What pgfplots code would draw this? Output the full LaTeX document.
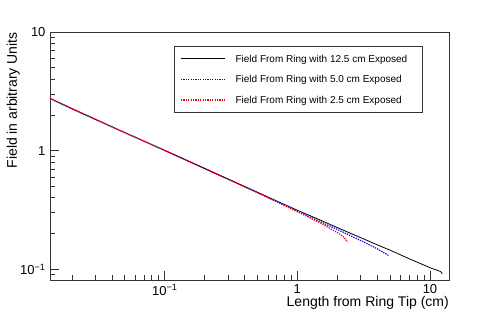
\documentclass[border=0pt]{standalone}
\usepackage{fontspec}
\setmainfont{Liberation Sans}
\usepackage{pgfplots}
\pgfplotsset{compat=1.18}
\begin{document}
\begin{tikzpicture}
\begin{axis}[
  at={(0pt,0pt)}, anchor=south west,
  scale only axis, width=399pt, height=248pt,
  xmode=log, ymode=log,
  xmin=0.01365, xmax=13.91, ymin=0.0813, ymax=10,
  axis line style={line width=0.8pt, black!80},
  tick align=inside, xtick pos=bottom, ytick pos=left,
  tick style={line width=0.8pt, black!80},
  major tick length=9pt, minor tick length=5pt,
  xtick={0.1,1,10}, xticklabels={10\textsuperscript{−1},1,10},
  ytick={0.1,1,10}, yticklabels={10\textsuperscript{−1},1,10},
  minor xtick={0.02,0.03,0.04,0.05,0.06,0.07,0.08,0.09,0.2,0.3,0.4,0.5,0.6,0.7,0.8,0.9,2,3,4,5,6,7,8,9},
  minor ytick={0.09,0.2,0.3,0.4,0.5,0.6,0.7,0.8,0.9,2,3,4,5,6,7,8,9},
  ticklabel style={font=\fontsize{13}{15}\selectfont},
  xticklabel style={yshift=-1pt},
  yticklabel style={xshift=-1pt},
  xlabel={Length from Ring Tip (cm)},
  ylabel={Field in arbitrary Units},
  xlabel style={font=\fontsize{14}{16}\selectfont, at={(rel axis cs:1,0)}, anchor=north east, yshift=-16pt, inner sep=0pt},
  ylabel style={font=\fontsize{14}{16}\selectfont, at={(rel axis cs:0,1)}, anchor=south east, yshift=30pt, inner sep=0pt},
  legend cell align=left,
  legend image code/.code={\draw[#1] (0pt,0pt) -- (44pt,0pt);},
  legend style={at={(0.311,0.9435)}, anchor=north west, draw=black!80, line width=0.6pt,
    font=\fontsize{10}{12}\selectfont, inner xsep=6pt, inner ysep=2pt,
    nodes={inner sep=0pt, minimum height=20.7pt, text depth=0pt},
    /tikz/every odd column/.append style={column sep=10pt}},
]
\addplot[black, line width=0.8pt] coordinates {
(0.01365,2.76) (0.02,2.26) (0.03,1.84) (0.05,1.42) (0.07,1.20) (0.1,1.003)
(0.15,0.818) (0.2,0.707) (0.3,0.577) (0.5,0.446) (0.7,0.376) (1,0.315)
(1.5,0.259) (2,0.225) (3,0.185) (4,0.161) (5,0.145) (7,0.1226)
(10,0.1033) (11,0.0993) (12,0.0959) (12.4,0.0918)
};
\addlegendentry{\makebox[181pt][l]{Field From Ring with 12.5 cm Exposed}}
\addplot[color={rgb,255:red,0;green,0;blue,255}, line width=1.2pt, dash pattern=on 1.3pt off 1.1pt] coordinates {
(0.01365,2.76) (0.02,2.26) (0.03,1.84) (0.05,1.42) (0.07,1.20) (0.1,1.003)
(0.15,0.818) (0.2,0.707) (0.3,0.577) (0.5,0.446) (0.7,0.375) (1,0.309)
(1.5,0.251) (2,0.217) (3,0.175) (4,0.149) (4.86,0.131)
};
\addlegendentry{\makebox[181pt][l]{Field From Ring with 5.0 cm Exposed}}
\addplot[color={rgb,255:red,255;green,0;blue,0}, line width=1.2pt, dash pattern=on 1.3pt off 1.1pt] coordinates {
(0.01365,2.76) (0.02,2.26) (0.03,1.84) (0.05,1.42) (0.07,1.20) (0.1,1.003)
(0.15,0.818) (0.2,0.707) (0.3,0.576) (0.5,0.442) (0.7,0.370) (1,0.306)
(1.5,0.245) (2,0.2045) (2.2,0.190) (2.4,0.170)
};
\addlegendentry{\makebox[181pt][l]{Field From Ring with 2.5 cm Exposed}}
\end{axis}
\pgfresetboundingbox
\path[use as bounding box] (-50pt,-31pt) rectangle (448pt,280pt);
\end{tikzpicture}
\end{document}
